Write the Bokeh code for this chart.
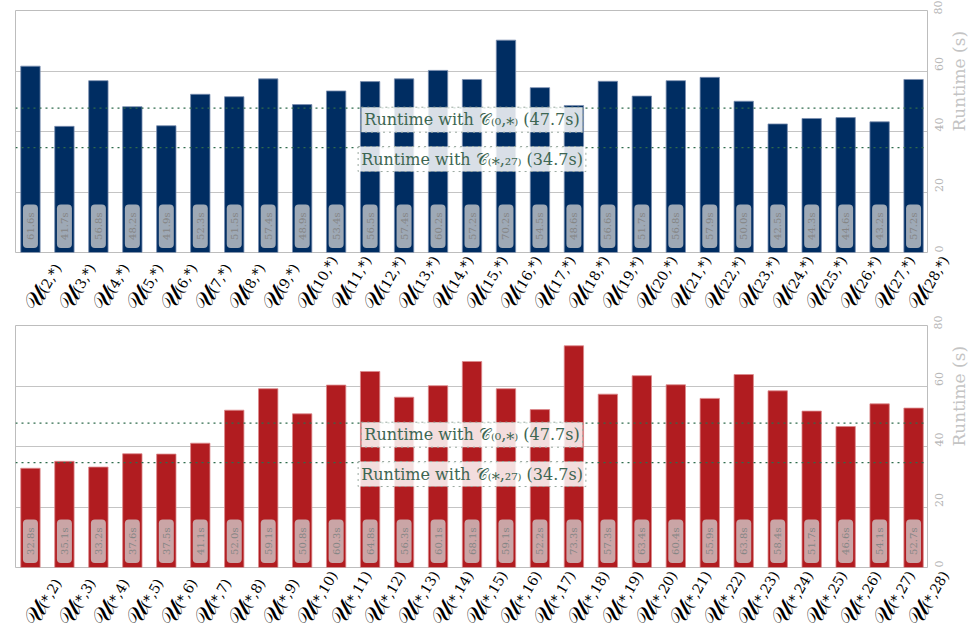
import math
from bokeh.plotting import figure
from bokeh.models import Range1d, FixedTicker, Span, Label, ColumnDataSource
from bokeh.layouts import column
from bokeh.embed import file_html
from bokeh.resources import INLINE
from bokeh.core.properties import value

SUB = str.maketrans("0123456789()*", "₀₁₂₃₄₅₆₇₈₉₍₎⁎")

top_keys = ["(%d,*)" % k for k in range(2, 29)]
top_values = [61.6, 41.7, 56.8, 48.2, 41.9, 52.3, 51.5, 57.4, 48.9, 53.4,
              56.5, 57.4, 60.2, 57.2, 70.2, 54.5, 48.6, 56.6, 51.7, 56.8,
              57.9, 50.0, 42.5, 44.3, 44.6, 43.2, 57.2]
bot_keys = ["(*,%d)" % k for k in range(2, 29)]
bot_values = [32.8, 35.1, 33.2, 37.6, 37.5, 41.1, 52.0, 59.1, 50.8, 60.3,
              64.8, 56.3, 60.1, 68.1, 59.1, 52.2, 73.3, 57.3, 63.4, 60.4,
              55.9, 63.8, 58.4, 51.7, 46.6, 54.1, 52.7]
ref_lines = [47.7, 34.7]
ref_names = ["(0,*)", "(*,27)"]
y_ticks = [0, 20, 40, 60, 80]

SERIF = "DejaVu Serif"
ANG = math.radians(60)
X0, X1 = -0.44, 26.41
FW, FH = 912, 242
LEFT = 15
STRIP_H = 62
KPX = (X1 - X0) / FW          # category units per pixel


def make_panel(vals, color, edge):
    n = len(vals)
    xs = list(range(n))
    src = ColumnDataSource(dict(
        x=xs, top=vals,
        lbl=["%.1fs" % v for v in vals],
        ly=[8.7] * n,
    ))
    p = figure(frame_width=FW, frame_height=FH, output_backend="svg",
               toolbar_location=None, y_axis_location="right",
               x_range=Range1d(X0, X1), y_range=Range1d(0, 80),
               min_border_left=LEFT, min_border_top=10, min_border_right=8,
               min_border_bottom=1, background_fill_color="white",
               border_fill_color="white")
    p.vbar(x="x", top="top", width=0.57, source=src, fill_color=color,
           line_color=edge, line_width=1, line_alpha=0.8)
    p.text(x="x", y="ly", text="lbl", source=src, angle=math.pi / 2,
           text_align="center", text_baseline="middle",
           text_font=value(SERIF), text_font_size="10px", text_color="#858585",
           background_fill_color="lightgray", background_fill_alpha=0.75,
           border_radius=4, padding=dict(x=8, y=2))
    for loc, nm in zip(ref_lines, ref_names):
        p.add_layout(Span(location=loc, dimension="width", line_color="#2f6b4c",
                          line_dash="dotted", line_width=1.2))
        p.add_layout(Label(x=13, y=loc, y_offset=1,
                           text="Runtime with 𝒞" + nm.translate(SUB) + " (%.1fs)" % loc,
                           text_align="center", text_baseline="top",
                           text_font=SERIF, text_font_size="16px",
                           text_color="#3d6652",
                           background_fill_color="white", background_fill_alpha=0.85,
                           border_line_color="#9aa89f", border_line_dash="dotted",
                           padding=3))
    p.xgrid.grid_line_color = None
    p.ygrid.grid_line_color = "#c4c4c4"
    p.ygrid.ticker = FixedTicker(ticks=y_ticks)
    p.outline_line_color = "#bdbdbd"
    p.xaxis.visible = False

    ya = p.yaxis[0]
    ya.ticker = FixedTicker(ticks=y_ticks)
    ya.major_label_orientation = math.pi / 2
    ya.major_label_text_font = SERIF
    ya.major_label_text_font_size = "11px"
    ya.major_label_text_color = "#b5b5b5"
    ya.axis_line_color = None
    ya.major_tick_line_color = None
    ya.minor_tick_line_color = None
    ya.axis_label = "Runtime (s)"
    ya.axis_label_text_font = SERIF
    ya.axis_label_text_font_style = "normal"
    ya.axis_label_text_font_size = "17px"
    ya.axis_label_text_color = "#c4c4c4"
    ya.axis_label_orientation = math.pi / 2
    ya.axis_label_standoff = 9
    return p


def make_strip(keys):
    """Category labels (script U with a smaller subscript), on the panel's x scale."""
    n = len(keys)
    width = 971
    start = X0 - LEFT * KPX
    s = figure(frame_width=width, frame_height=STRIP_H, output_backend="svg",
               toolbar_location=None, x_range=Range1d(start, start + width * KPX),
               y_range=Range1d(-STRIP_H, 0), min_border=0,
               background_fill_color="white", border_fill_color="white")
    s.axis.visible = False
    s.grid.grid_line_color = None
    s.outline_line_color = None
    u_dx, u_dy = -16.0, -55.0     # baseline start of U relative to tick (px)
    s_dx, s_dy = -3.5, -38.5      # baseline start of subscript (px)
    src = ColumnDataSource(dict(
        ux=[i + u_dx * KPX for i in range(n)], uy=[u_dy] * n, ut=["𝒰"] * n,
        sx=[i + s_dx * KPX for i in range(n)], sy=[s_dy] * n, st=keys,
    ))
    s.text(x="ux", y="uy", text="ut", source=src, angle=ANG,
           text_align="left", text_baseline="alphabetic",
           text_font=value(SERIF), text_font_size="25px", text_color="black")
    s.text(x="sx", y="sy", text="st", source=src, angle=ANG,
           text_align="left", text_baseline="alphabetic",
           text_font=value(SERIF), text_font_size="14px", text_color="black")
    return s


p1 = make_panel(top_values, "#002d62", "#7b8fb0")
s1 = make_strip(top_keys)
p2 = make_panel(bot_values, "#b11c20", "#dc8a8c")
s2 = make_strip(bot_keys)
layout = column(p1, s1, p2, s2, spacing=0)

open("out.html", "w").write(file_html(layout, INLINE))
